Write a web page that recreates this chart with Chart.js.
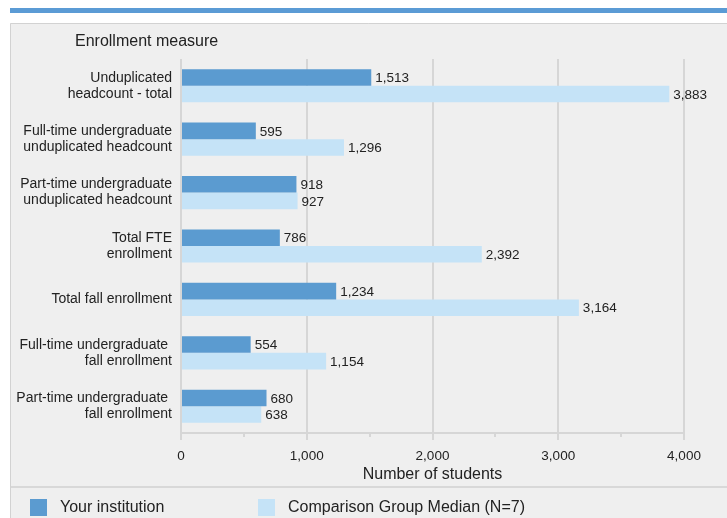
<!DOCTYPE html>
<html>
<head>
<meta charset="utf-8">
<script src="https://cdn.jsdelivr.net/npm/chart.js@4.4.1/dist/chart.umd.min.js"></script>
<style>
  html, body { margin: 0; padding: 0; background: #ffffff; }
  #wrap { width: 727px; height: 518px; }
</style>
</head>
<body>
<div id="wrap"><canvas id="enrollChart" width="727" height="518"></canvas></div>
<script>
const categories = [
  ['Unduplicated', 'headcount - total'],
  ['Full-time undergraduate', 'unduplicated headcount'],
  ['Part-time undergraduate', 'unduplicated headcount'],
  ['Total FTE', 'enrollment'],
  'Total fall enrollment',
  ['Full-time undergraduate ', 'fall enrollment'],
  ['Part-time undergraduate ', 'fall enrollment'],
];
const yourInstitution = [1513, 595, 918, 786, 1234, 554, 680];
const comparisonMedian = [3883, 1296, 927, 2392, 3164, 1154, 638];
const seriesNames = ['Your institution', 'Comparison Group Median (N=7)'];
const xMax = 4000;
const xStep = 1000;
const minorTicks = [500, 1500, 2500, 3500];

const FONT = "'Liberation Sans', Arial, sans-serif";
const TEXT = '#222222';
const GRID = '#d6d6d6';
const DARK = '#5b9bd0';
const LIGHT = '#c5e3f7';

const fmt = (v) => Number(v).toLocaleString('en-US');

// panel, stripe, header text, value labels, minor ticks, legend
const decorPlugin = {
  id: 'decor',
  beforeDraw(chart) {
    const ctx = chart.ctx;
    ctx.save();
    ctx.fillStyle = '#ffffff';
    ctx.fillRect(0, 0, chart.width, chart.height);
    ctx.fillStyle = '#5b9bd5';
    ctx.fillRect(10, 8, chart.width - 10, 5);
    ctx.fillStyle = '#efefef';
    ctx.fillRect(10, 23, chart.width - 10, chart.height - 23);
    ctx.strokeStyle = '#d2d2d2';
    ctx.lineWidth = 1;
    ctx.beginPath();
    ctx.moveTo(10.5, chart.height);
    ctx.lineTo(10.5, 23.5);
    ctx.lineTo(chart.width, 23.5);
    ctx.stroke();
    ctx.restore();
  },
  afterDraw(chart) {
    const ctx = chart.ctx;
    const xs = chart.scales.x;
    const area = chart.chartArea;
    ctx.save();

    // minor ticks
    ctx.strokeStyle = GRID;
    ctx.lineWidth = 2;
    minorTicks.forEach((v) => {
      const px = Math.round(xs.getPixelForValue(v));
      ctx.beginPath();
      ctx.moveTo(px, area.bottom);
      ctx.lineTo(px, area.bottom + 4);
      ctx.stroke();
    });

    // header
    ctx.fillStyle = TEXT;
    ctx.font = '16px ' + FONT;
    ctx.textBaseline = 'middle';
    ctx.textAlign = 'left';
    ctx.fillText('Enrollment measure', 75, 42);

    // axis title
    ctx.textAlign = 'center';
    ctx.fillText('Number of students', (area.left + area.right) / 2, 475);

    // value labels
    ctx.font = '13.5px ' + FONT;
    ctx.textAlign = 'left';
    chart.data.datasets.forEach((ds, i) => {
      const meta = chart.getDatasetMeta(i);
      meta.data.forEach((bar, j) => {
        ctx.fillText(fmt(ds.data[j]), bar.x + 4, bar.y + 1);
      });
    });

    // legend divider
    ctx.strokeStyle = '#d8d8d8';
    ctx.lineWidth = 2;
    ctx.beginPath();
    ctx.moveTo(11, 487);
    ctx.lineTo(chart.width, 487);
    ctx.stroke();

    // legend
    const legendX = [30, 258];
    ctx.font = '16px ' + FONT;
    chart.data.datasets.forEach((ds, i) => {
      ctx.fillStyle = ds.backgroundColor;
      ctx.fillRect(legendX[i], 499, 17, 17);
      ctx.fillStyle = TEXT;
      ctx.fillText(ds.label, legendX[i] + 30, 508);
    });

    ctx.restore();
  }
};

new Chart(document.getElementById('enrollChart'), {
  type: 'bar',
  data: {
    labels: categories,
    datasets: [
      {
        label: seriesNames[0],
        data: yourInstitution,
        backgroundColor: DARK,
        categoryPercentage: 0.62,
        barPercentage: 1.0,
      },
      {
        label: seriesNames[1],
        data: comparisonMedian,
        backgroundColor: LIGHT,
        categoryPercentage: 0.62,
        barPercentage: 1.0,
      }
    ]
  },
  options: {
    indexAxis: 'y',
    responsive: false,
    animation: false,
    layout: { padding: { top: 59, right: 43, left: 0, bottom: 0 } },
    plugins: {
      legend: { display: false },
      tooltip: { enabled: false }
    },
    scales: {
      x: {
        min: 0,
        max: xMax,
        afterFit(scale) { scale.height = 85; },
        ticks: {
          stepSize: xStep,
          color: TEXT,
          font: { family: FONT, size: 13.5 },
          padding: 8,
          maxRotation: 0,
          callback: (v) => fmt(v),
        },
        grid: {
          color: GRID,
          lineWidth: 2,
          drawTicks: true,
          tickLength: 7,
          tickColor: GRID,
        },
        border: { display: true, color: GRID, width: 2 }
      },
      y: {
        afterFit(scale) { scale.width = 181; },
        ticks: {
          color: TEXT,
          font: { family: FONT, size: 14, lineHeight: 16 / 14 },
          padding: 9,
        },
        grid: { display: false, drawTicks: false },
        border: { display: false }
      }
    }
  },
  plugins: [decorPlugin]
});
</script>
</body>
</html>
